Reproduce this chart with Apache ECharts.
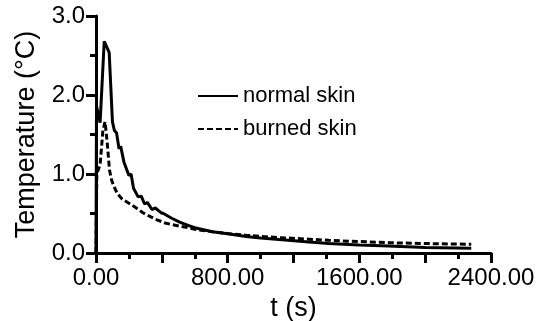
<!DOCTYPE html>
<html>
<head>
<meta charset="utf-8">
<script src="https://cdn.jsdelivr.net/npm/echarts@6/dist/echarts.min.js"></script>
<style>
  html, body { margin: 0; padding: 0; background: #fff; }
  #chart { width: 545px; height: 321px; }
</style>
</head>
<body>
<div id="chart"></div>
<script>
// time (s) and temperature rise (°C)
const tNormal = [0, 3, 25, 50, 58, 80, 100, 112, 125, 140, 150, 170, 180, 200, 213, 228, 240, 256, 275, 295, 312, 340, 360, 395, 410, 460, 508, 560, 600, 707, 810, 912, 1000, 1112, 1294, 1415, 1600, 1777, 2000, 2280];
const normalVals = [0, 1.86, 1.65, 2.68, 2.66, 2.54, 1.66, 1.55, 1.52, 1.32, 1.35, 1.15, 1.17, 0.98, 1.0, 0.82, 0.84, 0.71, 0.72, 0.62, 0.64, 0.55, 0.57, 0.51, 0.5, 0.44, 0.39, 0.35, 0.32, 0.27, 0.24, 0.21, 0.19, 0.17, 0.14, 0.12, 0.10, 0.09, 0.07, 0.06];

const tBurned = [0, 5, 25, 42, 55, 68, 82, 95, 110, 130, 160, 200, 245, 285, 330, 370, 420, 460, 508, 560, 600, 707, 810, 912, 1000, 1112, 1294, 1415, 1600, 1777, 2000, 2280];
const burnedVals = [0, 1.0, 1.12, 1.55, 1.66, 1.4, 1.05, 0.92, 0.84, 0.75, 0.68, 0.63, 0.57, 0.51, 0.46, 0.42, 0.38, 0.36, 0.34, 0.32, 0.30, 0.27, 0.245, 0.225, 0.21, 0.195, 0.175, 0.16, 0.145, 0.13, 0.12, 0.11];

const seriesNames = ['normal skin', 'burned skin'];

const font = 'Liberation Sans, Arial, Helvetica, sans-serif';

const zip = (xs, ys) => xs.map((x, i) => [x, ys[i]]);

const chart = echarts.init(document.getElementById('chart'), null, { renderer: 'canvas' });

const axisCommon = {
    axisLine: { lineStyle: { color: '#000', width: 3 } },
    axisTick: { show: true, length: 10, lineStyle: { color: '#000', width: 3 } },
    minorTick: { show: true, splitNumber: 2, length: 6, lineStyle: { color: '#000', width: 3 } },
    splitLine: { show: false },
    minorSplitLine: { show: false },
    nameTextStyle: { color: '#000', fontSize: 27, fontFamily: font }
};

const option = {
    animation: false,
    backgroundColor: '#fff',
    grid: { left: 96, right: 54, top: 16, bottom: 68, outerBoundsMode: 'none', containLabel: false },
    legend: {
        orient: 'vertical',
        left: 192,
        top: 80,
        itemWidth: 40,
        itemHeight: 12,
        itemGap: 11,
        itemStyle: { opacity: 0 },
        textStyle: { color: '#000', fontSize: 22, fontFamily: font },
        data: seriesNames
    },
    xAxis: Object.assign({}, axisCommon, {
        type: 'value',
        min: 0,
        max: 2400,
        interval: 400,
        name: 't (s)',
        nameLocation: 'middle',
        nameGap: 38,
        axisLabel: {
            color: '#000', fontSize: 24, fontFamily: font, margin: 13,
            formatter: v => (v % 800 === 0 ? v.toFixed(2) : '')
        }
    }),
    yAxis: Object.assign({}, axisCommon, {
        type: 'value',
        min: 0,
        max: 3,
        interval: 1,
        name: 'Temperature (°C)',
        nameLocation: 'middle',
        nameGap: 56,
        axisLabel: {
            color: '#000', fontSize: 24, fontFamily: font, margin: 11,
            formatter: v => v.toFixed(1)
        }
    }),
    series: [
        {
            name: seriesNames[0],
            type: 'line',
            symbol: 'none',
            data: zip(tNormal, normalVals),
            lineStyle: { color: '#000', width: 3 },
            itemStyle: { color: '#000' }
        },
        {
            name: seriesNames[1],
            type: 'line',
            symbol: 'none',
            data: zip(tBurned, burnedVals),
            lineStyle: { color: '#000', width: 3, type: [6, 3] },
            itemStyle: { color: '#000' }
        }
    ]
};

chart.setOption(option);
</script>
</body>
</html>
